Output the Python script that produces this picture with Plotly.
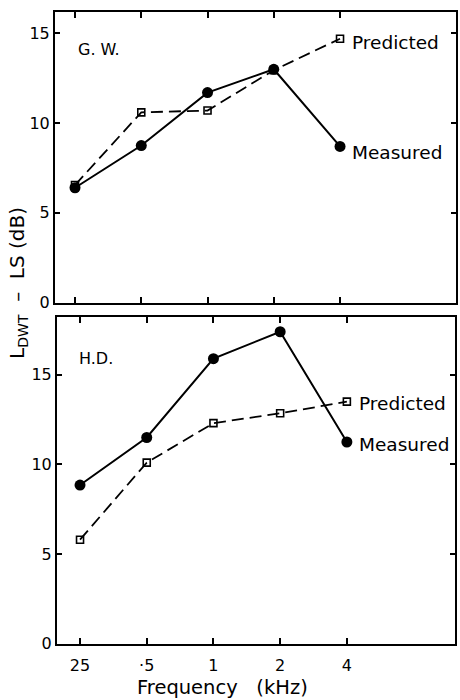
import math
import plotly.graph_objects as go

# ---- data ----
freqs = [0.25, 0.5, 1, 2, 4]
freq_labels = ["25", "·5", "1", "2", "4"]

gw_measured = [6.4, 8.75, 11.7, 13.0, 8.7]
gw_predicted = [6.55, 10.6, 10.7, 12.95, 14.7]

hd_measured = [8.85, 11.5, 15.9, 17.4, 11.25]
hd_predicted = [5.8, 10.1, 12.3, 12.85, 13.5]

y_ticks = [0, 5, 10, 15]

FONT = "DejaVu Sans"
W, H = 460, 700


def px_dom(a, b, total):
    return [a / total, b / total]


fig = go.Figure()

panels = [
    dict(meas=gw_measured, pred=gw_predicted, x="x", y="y", name="G. W.",
         xdom=px_dom(55, 456, W), ydom=[1 - 307 / H, 1 - 12 / H],
         xr=[-0.693, 1.129], yr=[0, 16.2],
         lab_x=76, lab_y=50, pred_shift=(10, -4), meas_shift=(10, -6)),
    dict(meas=hd_measured, pred=hd_predicted, x="x2", y="y2", name="H.D.",
         xdom=px_dom(57, 455, W), ydom=[1 - 653 / H, 1 - 322 / H],
         xr=[-0.706, 1.090], yr=[0, 18.2],
         lab_x=77, lab_y=364, pred_shift=(10, -2), meas_shift=(10, -3)),
]

for i, p in enumerate(panels):
    fig.add_trace(go.Scatter(
        x=freqs, y=p["pred"], xaxis=p["x"], yaxis=p["y"], mode="lines+markers",
        line=dict(color="black", width=1.8, dash="12px,6px"),
        marker=dict(symbol="square-open", size=7, color="black", line=dict(width=1.6)),
        showlegend=False, hoverinfo="skip"))
    fig.add_trace(go.Scatter(
        x=freqs, y=p["meas"], xaxis=p["x"], yaxis=p["y"], mode="lines+markers",
        line=dict(color="black", width=2),
        marker=dict(symbol="circle", size=11, color="black"),
        showlegend=False, hoverinfo="skip"))

    sfx = "" if i == 0 else "2"
    axis_common = dict(showline=True, linecolor="black", linewidth=2, mirror="ticks",
                       ticks="inside", tickcolor="black", tickwidth=1.5, ticklen=6,
                       showgrid=False, zeroline=False,
                       tickfont=dict(family=FONT, size=16, color="black"))
    xa = dict(axis_common, type="log", domain=p["xdom"], range=p["xr"],
              anchor="y" + sfx, tickvals=freqs, showticklabels=(i == 1))
    if i == 1:
        xa["ticktext"] = freq_labels
        xa["ticklabelstandoff"] = 6
    fig.update_layout(**{
        "xaxis" + sfx: xa,
        "yaxis" + sfx: dict(axis_common, domain=p["ydom"], range=p["yr"],
                            anchor="x" + sfx, tickvals=y_ticks, ticklen=5),
    })

    for label, vals, sh in (("Predicted", p["pred"], p["pred_shift"]),
                            ("Measured", p["meas"], p["meas_shift"])):
        fig.add_annotation(text=label, x=math.log10(freqs[-1]), y=vals[-1],
                           xref=p["x"], yref=p["y"], xanchor="left", yanchor="middle",
                           xshift=sh[0], yshift=sh[1], showarrow=False,
                           font=dict(family=FONT, size=18.5, color="black"))
    fig.add_annotation(text=p["name"], x=p["lab_x"] / W, y=1 - p["lab_y"] / H,
                       xref="paper", yref="paper", xanchor="left", yanchor="middle",
                       showarrow=False,
                       font=dict(family=FONT, size=16, color="black"))

fig.add_annotation(text="L<sub>DWT</sub>  –  LS (dB)", x=18 / W, y=1 - 287 / H,
                   xref="paper", yref="paper", textangle=-90, showarrow=False,
                   xanchor="center", yanchor="middle",
                   font=dict(family=FONT, size=20, color="black"))
fig.add_annotation(text="Frequency   (kHz)", x=222 / W, y=0,
                   xref="paper", yref="paper", showarrow=False,
                   xanchor="center", yanchor="bottom", yshift=-11,
                   font=dict(family=FONT, size=19.5, color="black"))

fig.update_layout(width=W, height=H, margin=dict(l=0, r=0, t=0, b=0),
                  paper_bgcolor="white", plot_bgcolor="white")

fig.write_html("out.html")
